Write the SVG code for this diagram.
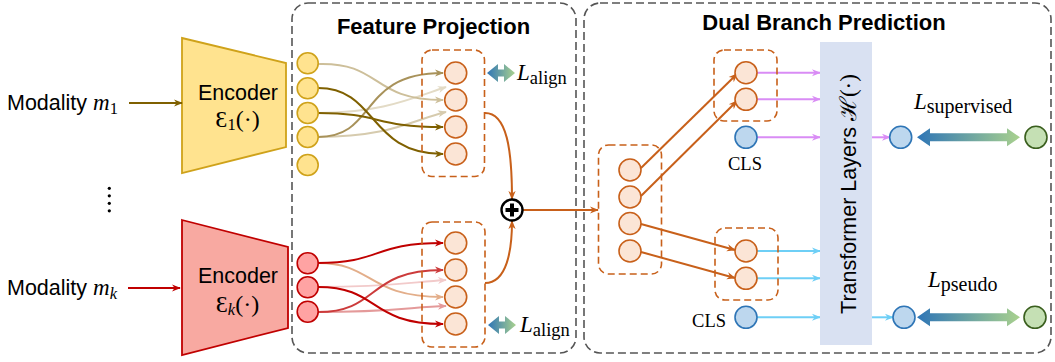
<svg xmlns="http://www.w3.org/2000/svg" width="1055" height="362" viewBox="0 0 1055 362">
<style>
.sans{font-family:"Liberation Sans",Arial,sans-serif;fill:#000}
.title{font-family:"Liberation Sans",Arial,sans-serif;font-weight:bold;font-size:22px;fill:#000;text-anchor:middle}
.math{font-family:"Liberation Serif","DejaVu Serif",serif;fill:#000}
.box{fill:none;stroke:#555;stroke-width:1.6;stroke-dasharray:8 4}
.grp{fill:none;stroke:#C8601A;stroke-width:1.6;stroke-dasharray:7 4}
.yn{fill:#FFE38F;stroke:#CFA21A;stroke-width:1.6}
.rn{fill:#FFA3A3;stroke:#C00000;stroke-width:1.6}
.on{fill:#FBE5D6;stroke:#C8601A;stroke-width:1.6}
.bn{fill:#BDD7EE;stroke:#2E75B6;stroke-width:1.6}
.gn{fill:#C5E0B4;stroke:#3A5F1E;stroke-width:1.6}
.c{fill:none;stroke-width:2}
</style>
<defs>
<linearGradient id="gb" x1="0" y1="0" x2="1" y2="0"><stop offset="0" stop-color="#2E75B6"/><stop offset="1" stop-color="#A9D18E"/></linearGradient>
<marker id="m-olive" viewBox="0 0 10 10" refX="9" refY="5" markerWidth="9" markerHeight="9" markerUnits="userSpaceOnUse" orient="auto"><path d="M0,1 L10,5 L0,9 L3,5 z" fill="#7F6000"/></marker>
<marker id="m-tan" viewBox="0 0 10 10" refX="9" refY="5" markerWidth="9" markerHeight="9" markerUnits="userSpaceOnUse" orient="auto"><path d="M0,1 L10,5 L0,9 L3,5 z" fill="#A8925A"/></marker>
<marker id="m-ltan" viewBox="0 0 10 10" refX="9" refY="5" markerWidth="9" markerHeight="9" markerUnits="userSpaceOnUse" orient="auto"><path d="M0,1 L10,5 L0,9 L3,5 z" fill="#CDBF9A"/></marker>
<marker id="m-vltan" viewBox="0 0 10 10" refX="9" refY="5" markerWidth="9" markerHeight="9" markerUnits="userSpaceOnUse" orient="auto"><path d="M0,1 L10,5 L0,9 L3,5 z" fill="#E3DBC6"/></marker>
<marker id="m-ltan2" viewBox="0 0 10 10" refX="9" refY="5" markerWidth="9" markerHeight="9" markerUnits="userSpaceOnUse" orient="auto"><path d="M0,1 L10,5 L0,9 L3,5 z" fill="#D6CBAE"/></marker>
<marker id="m-red" viewBox="0 0 10 10" refX="9" refY="5" markerWidth="9" markerHeight="9" markerUnits="userSpaceOnUse" orient="auto"><path d="M0,1 L10,5 L0,9 L3,5 z" fill="#C00000"/></marker>
<marker id="m-mred" viewBox="0 0 10 10" refX="9" refY="5" markerWidth="9" markerHeight="9" markerUnits="userSpaceOnUse" orient="auto"><path d="M0,1 L10,5 L0,9 L3,5 z" fill="#CC3B3B"/></marker>
<marker id="m-otan" viewBox="0 0 10 10" refX="9" refY="5" markerWidth="9" markerHeight="9" markerUnits="userSpaceOnUse" orient="auto"><path d="M0,1 L10,5 L0,9 L3,5 z" fill="#E3AE8A"/></marker>
<marker id="m-pink" viewBox="0 0 10 10" refX="9" refY="5" markerWidth="9" markerHeight="9" markerUnits="userSpaceOnUse" orient="auto"><path d="M0,1 L10,5 L0,9 L3,5 z" fill="#F2CACA"/></marker>
<marker id="m-lred" viewBox="0 0 10 10" refX="9" refY="5" markerWidth="9" markerHeight="9" markerUnits="userSpaceOnUse" orient="auto"><path d="M0,1 L10,5 L0,9 L3,5 z" fill="#E49A9A"/></marker>
<marker id="m-or" viewBox="0 0 10 10" refX="9" refY="5" markerWidth="9" markerHeight="9" markerUnits="userSpaceOnUse" orient="auto"><path d="M0,1 L10,5 L0,9 L3,5 z" fill="#C8601A"/></marker>
<marker id="m-pur" viewBox="0 0 10 10" refX="9" refY="5" markerWidth="9" markerHeight="9" markerUnits="userSpaceOnUse" orient="auto"><path d="M0,1 L10,5 L0,9 L3,5 z" fill="#D98CF5"/></marker>
<marker id="m-lb" viewBox="0 0 10 10" refX="9" refY="5" markerWidth="9" markerHeight="9" markerUnits="userSpaceOnUse" orient="auto"><path d="M0,1 L10,5 L0,9 L3,5 z" fill="#6ECFF6"/></marker>
</defs>
<rect width="1055" height="362" fill="#fff"/>

<g id="feature-projection-box">
<rect class="box" x="292" y="3" width="284" height="350" rx="16"/>
<text class="title" x="433.5" y="34">Feature Projection</text>
</g>
<g id="dual-branch-box">
<rect class="box" x="584" y="3" width="467" height="350" rx="16"/>
<text class="title" x="824" y="30">Dual Branch Prediction</text>
</g>

<g id="modality-1">
<text class="sans" x="7" y="110" font-size="21.5">Modality <tspan class="math" font-style="italic" font-size="23">m</tspan><tspan class="math" font-size="16.5" dy="4">1</tspan></text>
</g>
<g id="modality-k">
<text class="sans" x="7" y="295" font-size="21.5">Modality <tspan class="math" font-style="italic" font-size="23">m</tspan><tspan class="math" font-style="italic" font-size="16.5" dy="4">k</tspan></text>
</g>
<g id="ellipsis">
<circle cx="109.3" cy="188.3" r="1.6" fill="#000"/>
<circle cx="109.3" cy="195.8" r="1.6" fill="#000"/>
<circle cx="109.3" cy="203.3" r="1.6" fill="#000"/>
<circle cx="109.3" cy="210.8" r="1.6" fill="#000"/>
</g>

<g id="encoder-1">
<polygon points="182,38 286,63 286,147 182,173" fill="#FFE38F" stroke="#CFA21A" stroke-width="1.8"/>
<text class="sans" x="238" y="100" font-size="21.5" text-anchor="middle">Encoder</text>
<text class="math" x="237.5" y="127" font-size="24" text-anchor="middle">Ɛ<tspan font-size="16.5" dy="3">1</tspan><tspan dy="-3">(·)</tspan></text>
</g>
<g id="encoder-k">
<polygon points="182,220 288,247 288,328 182,355" fill="#F8A9A1" stroke="#C00000" stroke-width="1.8"/>
<text class="sans" x="238" y="283" font-size="21.5" text-anchor="middle">Encoder</text>
<text class="math" x="237.5" y="312" font-size="24" text-anchor="middle">Ɛ<tspan font-size="16.5" font-style="italic" dy="3">k</tspan><tspan dy="-3">(·)</tspan></text>
</g>

<g id="connectors">
<path class="c" d="M129,103 L182,103" stroke="#7F6000" marker-end="url(#m-olive)"/>
<path class="c" d="M128,288 L180,288" stroke="#C00000" marker-end="url(#m-red)"/>
<path class="c" d="M318,113 C380,113 410,99 446,87" stroke="#E3DBC6" marker-end="url(#m-vltan)"/>
<path class="c" d="M318,137 C390,137 412,120 446,112" stroke="#D6CBAE" marker-end="url(#m-ltan2)"/>
<path class="c" d="M318,64 C382,62 370,100 443,100" stroke="#CDBF9A" marker-end="url(#m-ltan)"/>
<path class="c" d="M318,137 C378,137 358,73 443,73" stroke="#A8925A" marker-end="url(#m-tan)"/>
<path class="c" d="M318,88 C378,88 368,154 443,154" stroke="#7F6000" marker-end="url(#m-olive)"/>
<path class="c" d="M318,113 C382,113 372,127 443,127" stroke="#7F6000" marker-end="url(#m-olive)"/>
<path class="c" d="M318,287 C390,287 412,282 446,280" stroke="#F2CACA" marker-end="url(#m-pink)"/>
<path class="c" d="M318,312 C390,312 412,307 446,306" stroke="#E49A9A" marker-end="url(#m-lred)"/>
<path class="c" d="M318,263 C374,263 366,297 443,297" stroke="#E3AE8A" marker-end="url(#m-otan)"/>
<path class="c" d="M318,312 C380,312 366,270 443,270" stroke="#CC3B3B" marker-end="url(#m-mred)"/>
<path class="c" d="M318,263 C382,263 372,243 443,243" stroke="#C00000" marker-end="url(#m-red)"/>
<path class="c" d="M318,287 C380,287 368,324 443,324" stroke="#C00000" marker-end="url(#m-red)"/>
<path class="c" d="M485,113 C507,113 512,150 512,199" stroke="#C8601A" marker-end="url(#m-or)"/>
<path class="c" d="M485,283 C507,283 512,250 512,221" stroke="#C8601A" marker-end="url(#m-or)"/>
<path class="c" d="M523,210 L598,210" stroke="#C8601A" marker-end="url(#m-or)"/>
<path class="c" d="M641,168 L737,74" stroke="#C8601A" marker-end="url(#m-or)"/>
<path class="c" d="M641,196 L737,101" stroke="#C8601A" marker-end="url(#m-or)"/>
<path class="c" d="M641,224 L735,250" stroke="#C8601A" marker-end="url(#m-or)"/>
<path class="c" d="M641,252 L735,278" stroke="#C8601A" marker-end="url(#m-or)"/>
<path class="c" d="M757,72.7 L820,72.7" stroke="#D98CF5" marker-end="url(#m-pur)"/>
<path class="c" d="M757,99.3 L820,99.3" stroke="#D98CF5" marker-end="url(#m-pur)"/>
<path class="c" d="M757,137.3 L820,137.3" stroke="#D98CF5" marker-end="url(#m-pur)"/>
<path class="c" d="M872,137.3 L890,137.3" stroke="#D98CF5" marker-end="url(#m-pur)"/>
<path class="c" d="M757,251 L820,251" stroke="#6ECFF6" marker-end="url(#m-lb)"/>
<path class="c" d="M757,278.3 L820,278.3" stroke="#6ECFF6" marker-end="url(#m-lb)"/>
<path class="c" d="M757,317.3 L820,317.3" stroke="#6ECFF6" marker-end="url(#m-lb)"/>
<path class="c" d="M872,317.3 L893,317.3" stroke="#6ECFF6" marker-end="url(#m-lb)"/>
</g>

<g id="yellow-tokens">
<circle class="yn" cx="307.7" cy="63.3" r="10.5"/>
<circle class="yn" cx="307.7" cy="88.3" r="10.5"/>
<circle class="yn" cx="307.7" cy="113" r="10.5"/>
<circle class="yn" cx="307.7" cy="137" r="10.5"/>
<circle class="yn" cx="307.7" cy="165" r="10.5"/>
</g>
<g id="red-tokens">
<circle class="rn" cx="307.7" cy="263.3" r="10.5"/>
<circle class="rn" cx="307.7" cy="287.3" r="10.5"/>
<circle class="rn" cx="307.7" cy="311.7" r="10.5"/>
</g>

<g id="projected-top">
<rect class="grp" x="422" y="50" width="62.5" height="126.5" rx="10"/>
<circle class="on" cx="455.7" cy="73" r="11"/>
<circle class="on" cx="455.7" cy="100" r="11"/>
<circle class="on" cx="455.7" cy="127" r="11"/>
<circle class="on" cx="455.7" cy="154" r="11"/>
</g>
<g id="projected-bottom">
<rect class="grp" x="422" y="222" width="63" height="125" rx="10"/>
<circle class="on" cx="455.7" cy="243" r="11"/>
<circle class="on" cx="455.7" cy="270" r="11"/>
<circle class="on" cx="455.7" cy="297" r="11"/>
<circle class="on" cx="455.7" cy="324" r="11"/>
</g>

<g id="align-top">
<polygon points="487,73 498,64 498,69.5 504,69.5 504,64 515,73 504,82 504,76.5 498,76.5 498,82" fill="url(#gb)"/>
<text class="math" x="517" y="80" font-size="23"><tspan font-style="italic">L</tspan><tspan font-size="18.5" dy="4">align</tspan></text>
</g>
<g id="align-bottom">
<polygon points="488,325 499,316 499,321.5 505,321.5 505,316 516,325 505,334 505,328.5 499,328.5 499,334" fill="url(#gb)"/>
<text class="math" x="520" y="331.5" font-size="23"><tspan font-style="italic">L</tspan><tspan font-size="18.5" dy="4">align</tspan></text>
</g>

<g id="fusion">
<circle cx="512" cy="210" r="10.5" fill="#fff" stroke="#000" stroke-width="2.4"/>
<path d="M512,203.5 L512,216.5 M505.5,210 L518.5,210" stroke="#000" stroke-width="4"/>
</g>

<g id="fused-tokens">
<rect class="grp" x="598.5" y="145" width="63" height="129" rx="10"/>
<circle class="on" cx="630" cy="170" r="11"/>
<circle class="on" cx="630" cy="197" r="11"/>
<circle class="on" cx="630" cy="223.5" r="11"/>
<circle class="on" cx="630" cy="251" r="11"/>
</g>

<g id="branch-top">
<rect class="grp" x="714" y="50" width="63" height="71" rx="10"/>
<circle class="on" cx="746" cy="72.7" r="11"/>
<circle class="on" cx="746" cy="99.3" r="11"/>
</g>
<g id="cls-top">
<circle class="bn" cx="746" cy="137.3" r="11"/>
<text class="math" x="745" y="170" font-size="18.5" text-anchor="middle">CLS</text>
</g>
<g id="branch-bottom">
<rect class="grp" x="715" y="228" width="63" height="72" rx="10"/>
<circle class="on" cx="746" cy="251" r="11"/>
<circle class="on" cx="746" cy="278.3" r="11"/>
</g>
<g id="cls-bottom">
<circle class="bn" cx="746" cy="317.3" r="11"/>
<text class="math" x="726" y="327" font-size="18.5" text-anchor="end">CLS</text>
</g>

<g id="transformer">
<rect x="820" y="42" width="52" height="303" fill="#D9E1F2"/>
<text class="sans" font-size="21.5" text-anchor="middle" transform="translate(856,194) rotate(-90)">Transformer Layers <tspan class="math" font-size="23">ℋ(·)</tspan></text>
</g>

<g id="supervised">
<circle class="bn" cx="900.7" cy="137.3" r="11"/>
<polygon points="917,137.3 930,128.3 930,133.3 1007,133.3 1007,128.3 1020,137.3 1007,146.3 1007,141.3 930,141.3 930,146.3" fill="url(#gb)"/>
<circle class="gn" cx="1036" cy="137.3" r="11"/>
<text class="math" x="914" y="109" font-size="23"><tspan font-style="italic">L</tspan><tspan font-size="20" dy="4">supervised</tspan></text>
</g>
<g id="pseudo">
<circle class="bn" cx="904" cy="317.3" r="11"/>
<polygon points="917,317.3 930,308.3 930,313.3 1007,313.3 1007,308.3 1020,317.3 1007,326.3 1007,321.3 930,321.3 930,326.3" fill="url(#gb)"/>
<circle class="gn" cx="1035" cy="317.3" r="11"/>
<text class="math" x="928" y="287" font-size="23"><tspan font-style="italic">L</tspan><tspan font-size="20" dy="4">pseudo</tspan></text>
</g>
</svg>
